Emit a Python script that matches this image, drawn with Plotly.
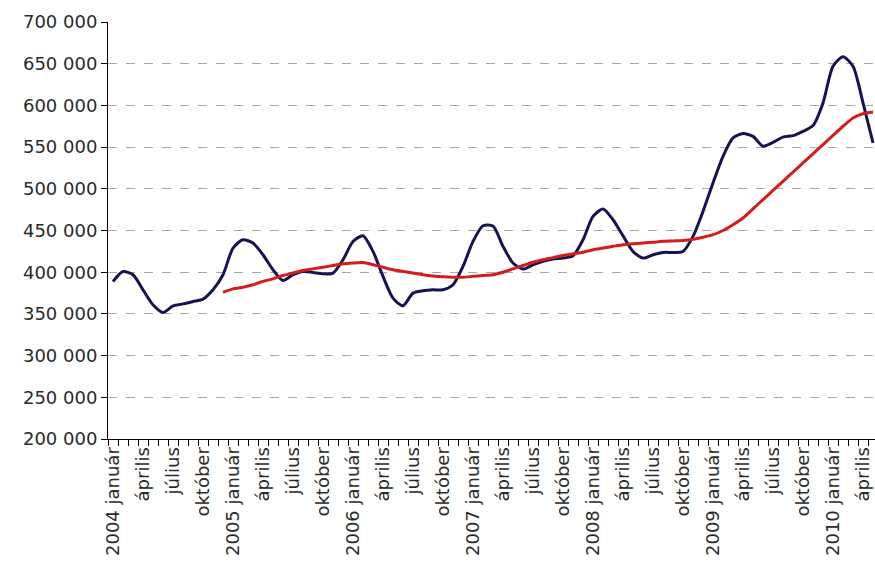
import plotly.graph_objects as go

years = [2004, 2005, 2006, 2007, 2008, 2009, 2010]
month_labels = ["január", "április", "július", "október"]

# monthly values, 2004 január .. 2010 május (77 months)
monthly = [
    388800, 400800, 396900, 378900, 360900, 351600, 359700, 362000, 364800, 367700, 378900, 396900,
    429000, 438900, 434900, 420900, 402900, 390000, 397000, 400900, 399700, 398100, 398900, 414900,
    436900, 443700, 424900, 394900, 368900, 359700, 374900, 377700, 378900, 378900, 384900, 406900,
    436900, 455700, 455300, 431000, 411000, 403700, 408900, 413000, 415700, 416900, 419700, 438900,
    466900, 475700, 462900, 443700, 424900, 416900, 420900, 423700, 423700, 424900, 442900, 472900,
    507000, 538900, 561000, 566200, 562900, 551000, 555700, 562000, 563700, 568900, 575800, 603000,
    647000, 658200, 647000, 603000, 555000,
]

# 12-month moving average, starting at 2004 december
moving_avg = [
    376000,
    380000, 382000, 385000, 389000, 392000, 396000, 399000, 402000, 404000, 406000, 408000, 410000,
    411000, 411500, 409000, 406000, 403000, 401000, 399000, 397000, 395500, 394500, 394000, 394000,
    395000, 396000, 397000, 400000, 404000, 408000, 412000, 415000, 417500, 420000, 422000, 424000,
    427000, 429000, 431000, 433000, 434000, 435000, 436000, 437000, 437500, 438000, 439500, 442000,
    445000, 450000, 457000, 465000, 476000, 487000, 498000, 509000, 520000, 531000, 542000, 553000,
    564000, 575000, 585000, 590000, 592000,
]

y_ticks = [200000, 250000, 300000, 350000, 400000, 450000, 500000, 550000, 600000, 650000, 700000]

x_all = list(range(len(monthly)))
x_ma = list(range(len(monthly) - len(moving_avg), len(monthly)))

tick_vals, tick_text = [], []
for i in range(0, len(monthly), 3):
    y = years[i // 12]
    m = month_labels[(i % 12) // 3]
    tick_vals.append(i)
    tick_text.append(f"{y} {m}" if m == "január" else m)

fig = go.Figure()
fig.add_trace(go.Scatter(
    x=x_all, y=monthly, mode="lines",
    line=dict(color="#141454", width=3, shape="spline", smoothing=0.7),
    showlegend=False, hoverinfo="skip",
))
fig.add_trace(go.Scatter(
    x=x_ma, y=moving_avg, mode="lines",
    line=dict(color="#d41c1c", width=3, shape="spline", smoothing=0.7),
    showlegend=False, hoverinfo="skip",
))

font_family = "DejaVu Sans, sans-serif"

fig.update_layout(
    width=875, height=571,
    margin=dict(l=108, r=0, t=22, b=132),
    paper_bgcolor="white", plot_bgcolor="white",
    font=dict(family=font_family, size=18, color="#2a2a2a"),
    xaxis=dict(
        range=[-0.5, 76.2], automargin=False,
        tickmode="array", tickvals=tick_vals, ticktext=tick_text,
        tickangle=-90, ticks="", showgrid=False, zeroline=False,
        showline=True, linecolor="black", linewidth=1,
        tickfont=dict(size=18),
        minor=dict(tickmode="linear", tick0=-0.5, dtick=1, ticks="outside",
                   ticklen=6, tickcolor="black", tickwidth=1, showgrid=False),
    ),
    yaxis=dict(
        range=[200000, 700000], automargin=False,
        tickmode="array", tickvals=y_ticks,
        ticktext=[f"{v:,}".replace(",", " ") for v in y_ticks],
        ticks="outside", ticklen=6, tickcolor="black",
        showline=True, linecolor="black", linewidth=1,
        showgrid=True, gridcolor="#a8a8a8", griddash="dash", gridwidth=1,
        zeroline=False, tickfont=dict(size=18),
    ),
)

fig.write_html(
    "out.html",
    config={"displayModeBar": False},
    post_script="document.body.style.margin='0';document.body.style.overflow='hidden';",
)
